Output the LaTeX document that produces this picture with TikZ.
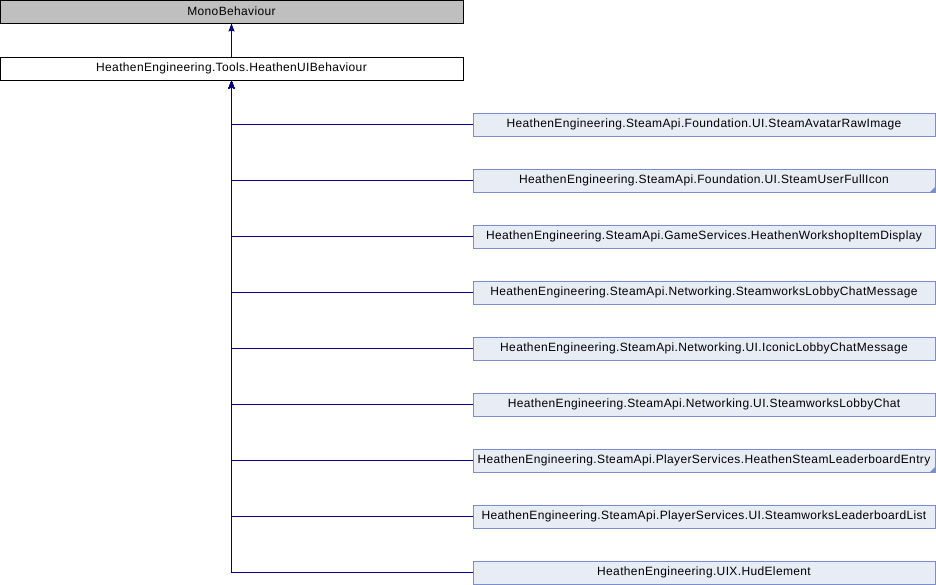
\documentclass[tikz,border=0pt]{standalone}
\usepackage{fontspec}
\setmainfont{Liberation Sans}
\usetikzlibrary{arrows.meta}
\definecolor{edgeblue}{RGB}{0,0,140}
\definecolor{boxfill}{RGB}{232,236,245}
\definecolor{boxline}{RGB}{122,142,200}
\definecolor{grayfill}{RGB}{191,191,191}
\tikzset{
  lbl/.style={font=\fontsize{12}{14}\selectfont\addfontfeatures{LetterSpace=3}},
  basebox/.style={draw=black, line width=1pt, minimum width=463pt, minimum height=23pt, inner sep=0pt, lbl},
  childbox/.style={draw=boxline, fill=boxfill, line width=1pt, minimum width=462pt, minimum height=23pt, inner sep=0pt, lbl},
  inh/.style={draw=edgeblue, line width=1pt, -{Stealth[length=8pt,width=6pt,inset=1pt]}},
  corner/.style={fill=boxline, draw=none}
}
\begin{document}
\begin{tikzpicture}[x=1pt,y=-1pt]
\useasboundingbox (0,0) rectangle (936,584);
\node[basebox, fill=grayfill] (mono) at (231.5,11.5) {MonoBehaviour};
\node[basebox, fill=white] (ui) at (231.5,68.5) {HeathenEngineering.Tools.HeathenUIBehaviour};
\node[childbox] (c1) at (704,124.5) {HeathenEngineering.SteamApi.Foundation.UI.SteamAvatarRawImage};
\node[childbox] (c2) at (704,180.5) {HeathenEngineering.SteamApi.Foundation.UI.SteamUserFullIcon};
\node[childbox] (c3) at (704,236.5) {HeathenEngineering.SteamApi.GameServices.HeathenWorkshopItemDisplay};
\node[childbox] (c4) at (704,292.5) {HeathenEngineering.SteamApi.Networking.SteamworksLobbyChatMessage};
\node[childbox] (c5) at (704,348.5) {HeathenEngineering.SteamApi.Networking.UI.IconicLobbyChatMessage};
\node[childbox] (c6) at (704,404.5) {HeathenEngineering.SteamApi.Networking.UI.SteamworksLobbyChat};
\node[childbox] (c7) at (704,460.5) {HeathenEngineering.SteamApi.PlayerServices.HeathenSteamLeaderboardEntry};
\node[childbox] (c8) at (704,516.5) {HeathenEngineering.SteamApi.PlayerServices.UI.SteamworksLeaderboardList};
\node[childbox] (c9) at (704,572.5) {HeathenEngineering.UIX.HudElement};
\fill[corner] (c2.south east) -- ++(0,-6) -- ++(-6,6) -- cycle;
\fill[corner] (c7.south east) -- ++(0,-6) -- ++(-6,6) -- cycle;
\draw[inh] (ui.north) -- (mono.south);
\foreach \c in {c1,c2,c3,c4,c5,c6,c7,c8,c9}{
  \draw[inh] (\c.west) -| (ui.south);
}
\end{tikzpicture}
\end{document}
